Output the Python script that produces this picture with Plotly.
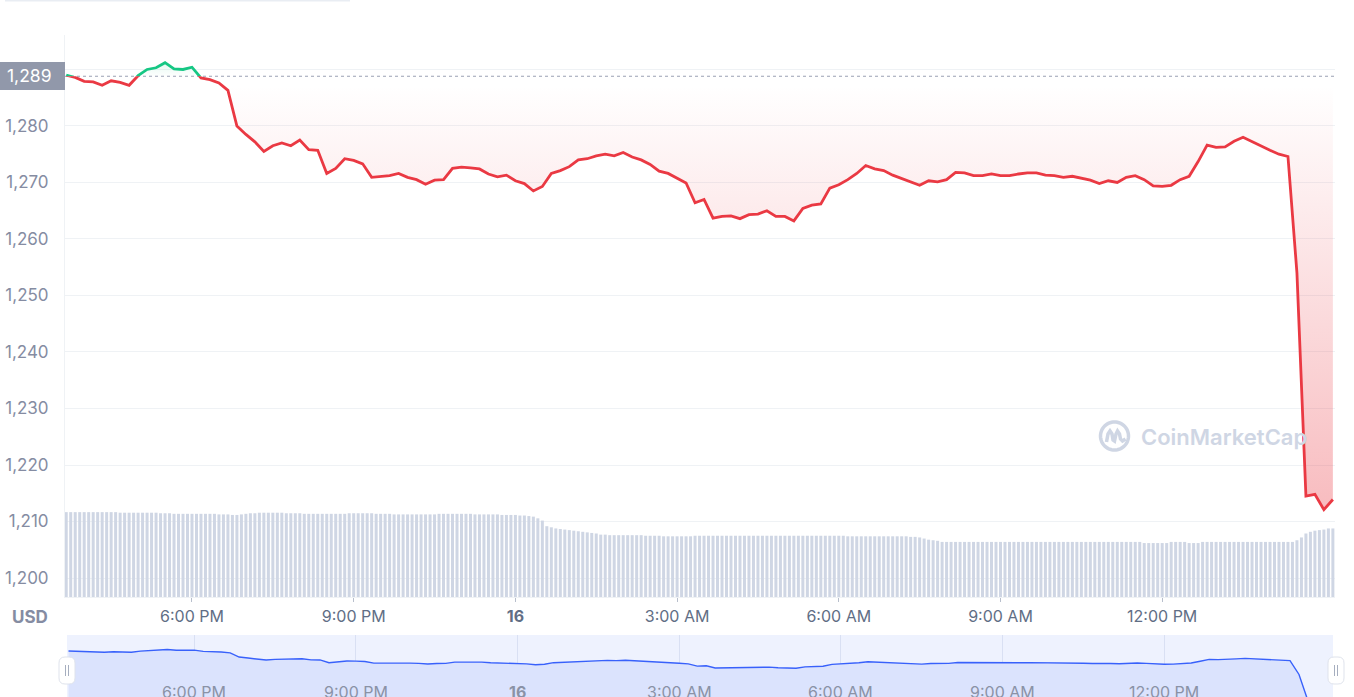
import math
import plotly.graph_objects as go
import pandas as pd

# ---------------- data ----------------
price_start = "2022-06-15 15:40"          # first price point, 10-minute steps
price = [
    1289.0, 1288.6, 1287.9, 1287.8, 1287.2, 1288.0, 1287.7, 1287.2, 1288.9, 1290.0,
    1290.3, 1291.2, 1290.1, 1290.0, 1290.4, 1288.5, 1288.2, 1287.6, 1286.3, 1280.0,
    1278.5, 1277.2, 1275.5, 1276.5, 1277.0, 1276.5, 1277.5, 1275.8, 1275.7, 1271.6,
    1272.5, 1274.2, 1273.9, 1273.3, 1270.9, 1271.0, 1271.2, 1271.6, 1270.9, 1270.5,
    1269.7, 1270.4, 1270.5, 1272.5, 1272.7, 1272.6, 1272.4, 1271.5, 1271.0, 1271.3,
    1270.3, 1269.8, 1268.5, 1269.3, 1271.6, 1272.1, 1272.8, 1274.0, 1274.2, 1274.7,
    1275.0, 1274.7, 1275.3, 1274.5, 1274.0, 1273.2, 1272.0, 1271.6, 1270.8, 1269.9,
    1266.4, 1267.0, 1263.7, 1264.0, 1264.1, 1263.6, 1264.3, 1264.4, 1265.0, 1264.0,
    1264.0, 1263.2, 1265.4, 1266.0, 1266.2, 1269.0, 1269.6, 1270.5, 1271.6, 1273.0,
    1272.4, 1272.1, 1271.3, 1270.7, 1270.1, 1269.5, 1270.3, 1270.1, 1270.5, 1271.8,
    1271.7, 1271.2, 1271.2, 1271.5, 1271.2, 1271.2, 1271.5, 1271.7, 1271.7, 1271.3,
    1271.2, 1270.9, 1271.1, 1270.7, 1270.4, 1269.8, 1270.3, 1270.0, 1270.9, 1271.2,
    1270.5, 1269.4, 1269.3, 1269.5, 1270.5, 1271.1, 1273.7, 1276.6, 1276.2, 1276.3,
    1277.3, 1278.0, 1277.2, 1276.5, 1275.7, 1275.0, 1274.6, 1254.0, 1214.5, 1214.8,
    1212.1, 1213.9,
]

volume_start = "2022-06-15 15:40"         # first volume bar, 5-minute steps
volume = [
    151, 151, 151, 151, 151, 151, 151, 151, 151, 151, 151, 151,
    150, 150, 150, 150, 150, 150, 150, 150, 150,
    149, 149, 149, 148, 148, 148, 148, 148, 148, 148, 148, 148, 148, 147, 147, 147,
    146, 146,
    147, 148, 149, 149, 150, 150, 150, 150, 150, 150, 149, 149, 149, 149,
    148, 148, 148, 148, 148, 148, 148, 148, 148, 148,
    149, 149, 149, 149, 149, 149, 148, 148,
    148, 148, 147, 147, 147, 147, 147, 147, 147, 147, 147, 147, 148, 148, 148, 148,
    148, 148, 148, 148, 147, 147, 147, 147, 147, 147,
    146, 146, 146, 146, 145, 145, 144,
    143, 140, 136,
    126, 124, 122, 121, 120, 119, 118, 117, 116, 115, 114, 113,
    111, 111, 110, 110, 110, 110, 110, 110, 110, 110, 109, 109, 109, 109,
    108, 108, 108, 108, 108, 108, 108, 109, 109, 109, 109, 109, 109, 109, 109, 109, 109, 109,
    109, 109, 109, 109, 109, 109, 109, 109, 109, 109, 109, 109, 109, 109, 109, 109, 109, 109,
    109, 109, 109, 109, 109, 108, 108, 108, 108, 108, 108, 108, 108, 108, 108, 108, 108, 108,
    108, 107, 107, 106,
    104, 102, 101, 100,
    98, 98, 98, 98, 98, 98, 98, 98, 98, 98, 98, 98, 98, 98, 98,
    98, 98, 98, 98, 98, 98, 98, 98, 98, 98, 98, 98, 98, 98, 98,
    98, 98, 98, 98, 98, 98, 98, 98, 98, 98, 98, 98, 98, 98, 98,
    96, 96, 96, 96, 96, 96,
    98, 98, 98, 98,
    96, 96, 96,
    98, 98, 98, 98, 98, 98, 98, 98, 98, 98, 98, 98, 98, 98, 98, 98, 98, 98, 98, 98, 98,
    101, 106, 113, 116, 118, 119, 120, 122, 122,
]

base_price = 1288.8
base_label = "1,289"

y_tickvals = [1200, 1210, 1220, 1230, 1240, 1250, 1260, 1270, 1280, 1290]
y_ticktext = ["1,200", "1,210", "1,220", "1,230", "1,240", "1,250", "1,260", "1,270", "1,280", ""]

x_tick_times = ["2022-06-15 18:00", "2022-06-15 21:00", "2022-06-16 00:00", "2022-06-16 03:00",
                "2022-06-16 06:00", "2022-06-16 09:00", "2022-06-16 12:00"]
x_tick_text = ["6:00 PM", "9:00 PM", "<b>16</b>", "3:00 AM", "6:00 AM", "9:00 AM", "12:00 PM"]

main_x_range = ["2022-06-15 15:38:38", "2022-06-16 15:12:22"]
nav_x_range = ["2022-06-15 15:38:20", "2022-06-16 15:07:51"]
main_y_range = [1196.64, 1296.1]
nav_y_range = [1220.4, 1312.9]
vol_range = [0, 1000]

# ---------------- layout helpers ----------------
W, H = 1354, 697
L, R, T, B = 65, 19, 35, 0
PW, PH = W - L - R, H - T - B


def fx(px):  # page pixel -> paper x
    return (px - L) / PW


def fy(py):  # page pixel -> paper y
    return (H - B - py) / PH


t_price = pd.date_range(price_start, periods=len(price), freq="10min")
t_vol = pd.date_range(volume_start, periods=len(volume), freq="5min")

lo, hi = main_y_range
main_bottom = fy(597)
y_base = main_bottom + (base_price - lo) / (hi - lo) * (1 - main_bottom)

RED = "#ea3943"
GREEN = "#16c784"
GRID = "#eff2f5"
FONT = "Inter, 'Noto Sans', sans-serif"

fig = go.Figure()

# volume bars
fig.add_trace(go.Bar(x=t_vol, y=volume, xaxis="x", yaxis="y2",
                     marker=dict(color="#cfd6e4", line=dict(width=0)),
                     hoverinfo="skip", showlegend=False))

# below-baseline (red) part, clipped to lower domain
fig.add_trace(go.Scatter(x=t_price, y=[base_price] * len(price), xaxis="x", yaxis="y4",
                         mode="lines", line=dict(width=0, color="rgba(0,0,0,0)"),
                         hoverinfo="skip", showlegend=False))
fig.add_trace(go.Scatter(x=t_price, y=price, xaxis="x", yaxis="y4", mode="lines",
                         line=dict(color=RED, width=2.8), fill="tonexty",
                         fillgradient=dict(type="vertical",
                                           colorscale=[[0, "rgba(234,57,67,0.34)"],
                                                       [1, "rgba(234,57,67,0)"]],
                                           start=1212, stop=1287.2),
                         hoverinfo="skip", showlegend=False))

# above-baseline (green) part, clipped to upper domain
fig.add_trace(go.Scatter(x=t_price, y=[base_price] * len(price), xaxis="x", yaxis="y3",
                         mode="lines", line=dict(width=0, color="rgba(0,0,0,0)"),
                         hoverinfo="skip", showlegend=False))
fig.add_trace(go.Scatter(x=t_price, y=price, xaxis="x", yaxis="y3", mode="lines",
                         line=dict(color=GREEN, width=2.8), fill="tonexty",
                         fillgradient=dict(type="vertical",
                                           colorscale=[[0, "rgba(22,199,132,0)"],
                                                       [1, "rgba(22,199,132,0.12)"]],
                                           start=base_price, stop=1291.5),
                         hoverinfo="skip", showlegend=False))

# navigator
fig.add_trace(go.Scatter(x=t_price, y=price, xaxis="x2", yaxis="y5", mode="lines",
                         line=dict(color="#3861fb", width=1.4), fill="tozeroy",
                         fillcolor="#dbe3fd", hoverinfo="skip", showlegend=False))

shapes = [
    # navigator background
    dict(type="rect", xref="paper", yref="paper", x0=fx(67), x1=fx(1333), y0=fy(700), y1=fy(635),
         fillcolor="#eef2fe", line=dict(width=0), layer="below"),
    # dotted reference line
    dict(type="line", xref="paper", yref="y", x0=0, x1=1, y0=base_price, y1=base_price,
         line=dict(color="#9aa1b4", width=1.2, dash="dot"), layer="below"),
    # price label box
    dict(type="rect", xref="paper", yref="paper", x0=fx(0), x1=fx(65), y0=fy(90), y1=fy(62),
         fillcolor="#9198aa", line=dict(width=0), layer="above"),
    # faint bar at very top (edge of a page element above the chart)
    dict(type="rect", xref="paper", yref="paper", x0=fx(5), x1=fx(350), y0=fy(1.6), y1=fy(0),
         fillcolor="#e9edf3", line=dict(width=0)),
]


def rounded_rect(px0, py0, px1, py1, r):
    x0, x1 = fx(px0), fx(px1)
    y0, y1 = fy(py0), fy(py1)
    rx, ry = r / PW, r / PH
    return (f"M {x0+rx},{y0} L {x1-rx},{y0} Q {x1},{y0} {x1},{y0-ry} "
            f"L {x1},{y1+ry} Q {x1},{y1} {x1-rx},{y1} L {x0+rx},{y1} "
            f"Q {x0},{y1} {x0},{y1+ry} L {x0},{y0-ry} Q {x0},{y0} {x0+rx},{y0} Z")


for cx in (67, 1336):
    shapes.append(dict(type="path", xref="paper", yref="paper",
                       path=rounded_rect(cx - 8, 657, cx + 8, 684, 6),
                       fillcolor="#ffffff", line=dict(color="#dfe3ec", width=1)))
    for dx in (-1.5, 1.5):
        shapes.append(dict(type="line", xref="paper", yref="paper",
                           x0=fx(cx + dx), x1=fx(cx + dx), y0=fy(665), y1=fy(676),
                           line=dict(color="#a6aebf", width=1)))

# CoinMarketCap logo (decorative watermark)
lcx, lcy, lr = 1114.5, 436, 14
ring = []
for k in range(0, 61):
    a = 2 * math.pi * k / 60
    ring.append((lcx + lr * math.cos(a), lcy + lr * math.sin(a)))
ring_path = "M " + " L ".join(f"{fx(px)},{fy(py)}" for px, py in ring) + " Z"
shapes.append(dict(type="path", xref="paper", yref="paper", path=ring_path,
                   line=dict(color="#cfd6e4", width=3.5)))
wave = [(-8, 6), (-6.5, -2), (-4.5, -5), (-2.5, -2), (-1.5, 4), (0, 5), (1.5, -2),
        (3, -5), (5, -2), (6, 3), (8, 5), (11, 3)]
wave_path = "M " + " L ".join(f"{fx(lcx + dx)},{fy(lcy + dy)}" for dx, dy in wave)
shapes.append(dict(type="path", xref="paper", yref="paper", path=wave_path,
                   line=dict(color="#cfd6e4", width=3.5)))

annotations = [
    dict(text=base_label, xref="paper", yref="paper", x=fx(29), y=fy(76),
         xanchor="center", yanchor="middle", showarrow=False,
         font=dict(family=FONT, size=17.5, color="#ffffff")),
    dict(text="<b>USD</b>", xref="paper", yref="paper", x=fx(30), y=fy(616.5),
         xanchor="center", yanchor="middle", showarrow=False,
         font=dict(family=FONT, size=17, color="#858ca2")),
    dict(text="CoinMarketCap", xref="paper", yref="paper", x=fx(1224), y=fy(437),
         xanchor="center", yanchor="middle", showarrow=False,
         font=dict(family=FONT, size=22, color="#cfd6e4", weight=600)),
]
for tv, tt in zip(x_tick_times, x_tick_text):
    annotations.append(dict(text=tt, xref="x2", yref="paper", x=tv, y=fy(692),
                            xanchor="center", yanchor="middle", showarrow=False,
                            font=dict(family=FONT, size=16, color="#8a92a6")))

fig.update_layout(
    width=W, height=H,
    margin=dict(l=L, r=R, t=T, b=B, pad=0),
    paper_bgcolor="#ffffff", plot_bgcolor="rgba(0,0,0,0)",
    showlegend=False, bargap=0.33,
    font=dict(family=FONT),
    xaxis=dict(domain=[0, 1], anchor="y", range=main_x_range, type="date",
               tickvals=x_tick_times, ticktext=x_tick_text,
               ticks="outside", ticklen=4, tickwidth=1, tickcolor="#b8bfcc",
               tickfont=dict(family=FONT, size=16, color="#616e85"),
               ticklabelstandoff=1,
               showgrid=False, showline=True, linecolor=GRID, linewidth=1, zeroline=False),
    yaxis=dict(domain=[main_bottom, 1], anchor="x", range=main_y_range,
               tickvals=y_tickvals, ticktext=y_ticktext, ticks="",
               tickfont=dict(family=FONT, size=17, color="#858ca2"),
               ticklabelstandoff=12,
               showgrid=True, gridcolor=GRID, gridwidth=1,
               showline=True, linecolor=GRID, linewidth=1, zeroline=False),
    yaxis2=dict(overlaying="y", range=vol_range, visible=False),
    yaxis3=dict(domain=[y_base, 1], anchor="x", range=[base_price, hi], visible=False),
    yaxis4=dict(domain=[main_bottom, y_base], anchor="x", range=[lo, base_price], visible=False),
    xaxis2=dict(domain=[fx(67), fx(1333)], anchor="y5", range=nav_x_range, type="date",
                tickvals=x_tick_times, showticklabels=False, ticks="",
                showgrid=True, gridcolor="#d9e0f3", gridwidth=1, zeroline=False, showline=False),
    yaxis5=dict(domain=[0, fy(635)], anchor="x2", range=nav_y_range, visible=False),
    shapes=shapes,
    annotations=annotations,
)

# remove the browser's default 8px page margin so the figure sits in the corner
fig.write_html("out.html",
               config={"displayModeBar": False},
               post_script="document.body.style.margin='0';document.body.style.overflow='hidden';")
